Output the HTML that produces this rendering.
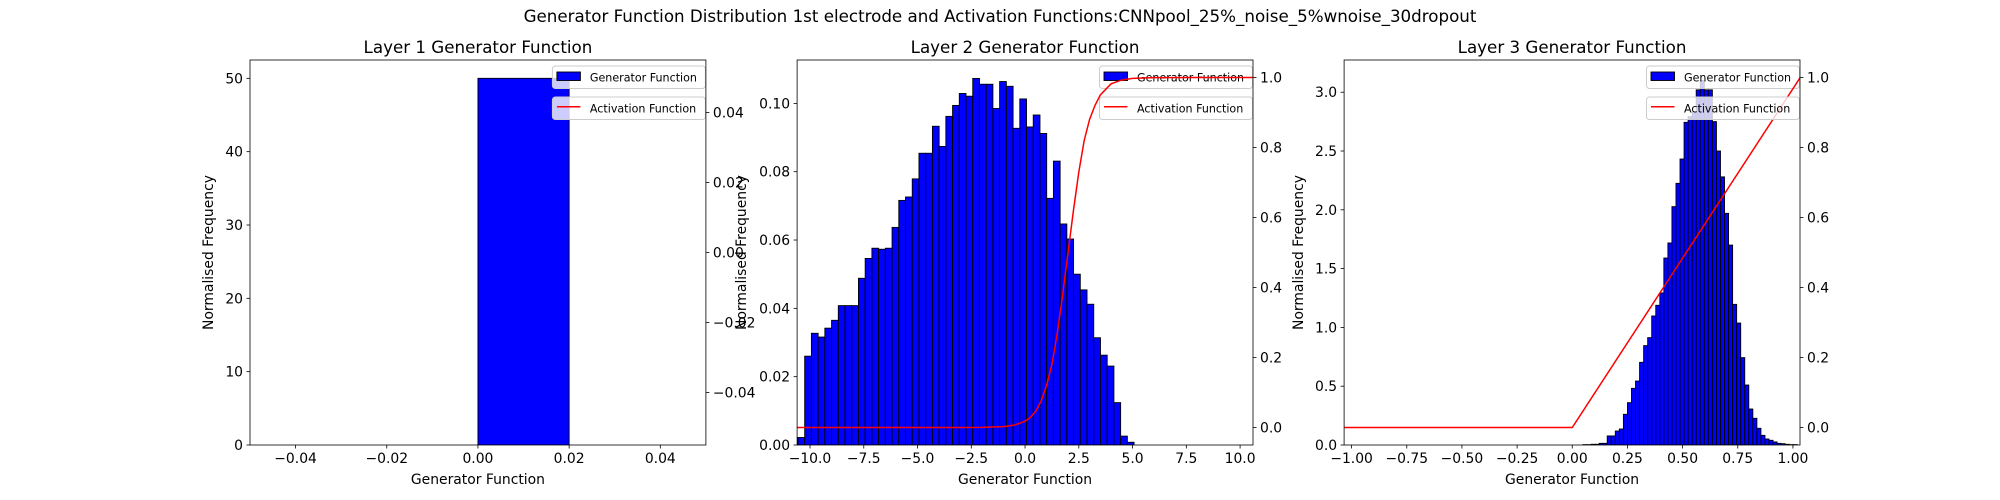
<!DOCTYPE html>
<html><head><meta charset="utf-8"><style>
html,body{margin:0;padding:0;background:#fff;}
svg{display:block;font-family:"DejaVu Sans","Liberation Sans",sans-serif;}
</style></head>
<body>
<svg id="fig" width="2000" height="500" viewBox="0 0 2000 500" xmlns="http://www.w3.org/2000/svg">
<rect width="2000" height="500" fill="#fff"/>
<text x="1000" y="22" font-size="16.7" text-anchor="middle">Generator Function Distribution 1st electrode and Activation Functions:CNNpool_25%_noise_5%wnoise_30dropout</text>
</svg>
<script>
// ---- Layer 1 data ----
const l1Edges = [0, 0.02];
const l1Heights = [50];
const l1XTicks = [-0.04, -0.02, 0, 0.02, 0.04];
const l1XTickLabels = ["−0.04", "−0.02", "0.00", "0.02", "0.04"];
const l1YTicks = [0, 10, 20, 30, 40, 50];
const l1YTickLabels = ["0", "10", "20", "30", "40", "50"];
const l1RTicks = [-0.04, -0.02, 0, 0.02, 0.04];
const l1RTickLabels = ["−0.04", "−0.02", "0.00", "0.02", "0.04"];
const l1ActX = [];
const l1ActY = [];
// ---- Layer 2 data ----
const l2BinStart = -10.56;
const l2BinWidth = 0.3126;
const l2Heights = [0.0022,0.026,0.0327,0.0316,0.0342,0.0365,0.0408,0.0408,0.0408,0.0488,0.0546,0.0576,0.0573,0.0576,0.0637,0.0716,0.0726,0.0779,0.0854,0.0854,0.0933,0.0874,0.0962,0.0994,0.1029,0.1021,0.1073,0.1056,0.1056,0.0985,0.1064,0.1050,0.0927,0.1013,0.0931,0.0966,0.0912,0.0722,0.0831,0.0647,0.0603,0.0500,0.0454,0.0412,0.0314,0.0263,0.0231,0.0124,0.0026,0.0008];
const l2XTicks = [-10, -7.5, -5, -2.5, 0, 2.5, 5, 7.5, 10];
const l2XTickLabels = ["−10.0","−7.5","−5.0","−2.5","0.0","2.5","5.0","7.5","10.0"];
const l2YTicks = [0, 0.02, 0.04, 0.06, 0.08, 0.10];
const l2YTickLabels = ["0.00","0.02","0.04","0.06","0.08","0.10"];
const l2RTicks = [0, 0.2, 0.4, 0.6, 0.8, 1.0];
const l2RTickLabels = ["0.0","0.2","0.4","0.6","0.8","1.0"];
const l2ActX = [-10.6,-6,-3,-2,-1,-0.5,0,0.25,0.5,0.75,1,1.25,1.5,1.75,2,2.25,2.5,2.75,3,3.25,3.5,4,4.5,5,6,8,10.6];
const l2ActY = [0,0,0,0.0002,0.0025,0.0067,0.018,0.029,0.047,0.076,0.12,0.18,0.27,0.38,0.5,0.62,0.73,0.82,0.88,0.92,0.95,0.982,0.993,0.9975,0.9997,1,1];
// ---- Layer 3 data ----
const l3BinStart = 0.0484;
const l3BinWidth = 0.01833;
const l3Heights = [0.003,0.003,0.006,0.006,0.014,0.014,0.077,0.077,0.119,0.136,0.261,0.36,0.482,0.544,0.703,0.845,0.913,1.097,1.188,1.293,1.59,1.718,2.027,2.225,2.432,2.744,2.792,2.834,3.02,3.10,3.02,3.02,2.75,2.50,2.28,1.97,1.70,1.196,1.037,0.743,0.51,0.306,0.227,0.142,0.082,0.051,0.040,0.026,0.014,0.011,0.006,0.003,0.003];
const l3XTicks = [-1, -0.75, -0.5, -0.25, 0, 0.25, 0.5, 0.75, 1];
const l3XTickLabels = ["−1.00","−0.75","−0.50","−0.25","0.00","0.25","0.50","0.75","1.00"];
const l3YTicks = [0, 0.5, 1, 1.5, 2, 2.5, 3];
const l3YTickLabels = ["0.0","0.5","1.0","1.5","2.0","2.5","3.0"];
const l3RTicks = [0, 0.2, 0.4, 0.6, 0.8, 1.0];
const l3RTickLabels = ["0.0","0.2","0.4","0.6","0.8","1.0"];
const l3ActX = [-1.033, 0, 1.033];
const l3ActY = [0, 0, 1.0];

const NS = "http://www.w3.org/2000/svg";
const svg = document.getElementById('fig');
function mk(tag, attrs, parent){
  const e = document.createElementNS(NS, tag);
  for (const k in attrs) e.setAttribute(k, attrs[k]);
  (parent||svg).appendChild(e);
  return e;
}
const TOP = 60, BOT = 445, W = 455.9;
function panel(p){
  const L = p.left, R = L + W;
  const g = mk('g', {});
  
  
  const sx = v => L + (v - p.xlim[0]) / (p.xlim[1] - p.xlim[0]) * W;
  const sy = v => BOT - (v - p.ylim[0]) / (p.ylim[1] - p.ylim[0]) * (BOT - TOP);
  const sr = v => BOT - (v - p.rlim[0]) / (p.rlim[1] - p.rlim[0]) * (BOT - TOP);
  const clip = mk('clipPath', {id: 'clip-' + p.name}, g);
  mk('rect', {x: L, y: TOP, width: W, height: BOT - TOP}, clip);
  const bars = mk('g', {'clip-path': 'url(#clip-' + p.name + ')'}, g);
  
  
  p.heights.forEach((h, i) => {
    const x0 = sx(p.edge(i)), x1 = sx(p.edge(i + 1));
    const r = mk('rect', {x: x0, y: sy(h), width: Math.max(0, x1 - x0), height: sy(0) - sy(h), fill: '#0000ff', stroke: '#000', 'stroke-width': 0.9}, bars);
    
    
  });
  const lx = R - 153.5;
  const lg1 = mk('g', {}, g);
  
  
  mk('rect', {x: lx, y: 66, width: 153, height: 22.5, rx: 3, fill: 'rgba(255,255,255,0.8)', stroke: '#cccccc', 'stroke-width': 1}, lg1);
  mk('rect', {x: lx + 4.5, y: 72, width: 23.5, height: 8.5, fill: '#0000ff', stroke: '#000', 'stroke-width': 0.9}, lg1);
  const t1 = mk('text', {x: lx + 37.5, y: 81.5, 'font-size': 11.1}, lg1);
  t1.textContent = 'Generator Function';
  if (p.actX.length){
    const pts = p.actX.map((x, i) => sx(x).toFixed(2) + ',' + sr(p.actY[i]).toFixed(2)).join(' ');
    const pl = mk('polyline', {points: pts, fill: 'none', stroke: '#ff0000', 'stroke-width': 1.5, 'clip-path': 'url(#clip-' + p.name + ')'}, g);
    
    
  }
  const lg2 = mk('g', {}, g);
  
  
  mk('rect', {x: lx, y: 97, width: 153, height: 22.5, rx: 3, fill: 'rgba(255,255,255,0.8)', stroke: '#cccccc', 'stroke-width': 1}, lg2);
  mk('line', {x1: lx + 4.5, x2: lx + 28, y1: 106.7, y2: 106.7, stroke: '#ff0000', 'stroke-width': 1.5}, lg2);
  const t2 = mk('text', {x: lx + 37.5, y: 112.5, 'font-size': 11.1}, lg2);
  t2.textContent = 'Activation Function';
  const fr = mk('rect', {x: L, y: TOP, width: W, height: BOT - TOP, fill: 'none', stroke: '#000', 'stroke-width': 0.8}, g);
  
  
  p.xt.forEach((v, i) => {
    const x = sx(v);
    mk('line', {x1: x, x2: x, y1: BOT, y2: BOT + 3.5, stroke: '#000', 'stroke-width': 0.8}, g);
    const t = mk('text', {x: x, y: BOT + 18, 'font-size': 13.9, 'text-anchor': 'middle'}, g);
    
    
    t.textContent = p.xtl[i];
  });
  p.yt.forEach((v, i) => {
    const y = sy(v);
    mk('line', {x1: L - 3.5, x2: L, y1: y, y2: y, stroke: '#000', 'stroke-width': 0.8}, g);
    const t = mk('text', {x: L - 7, y: y + 5, 'font-size': 13.9, 'text-anchor': 'end'}, g);
    
    
    t.textContent = p.ytl[i];
  });
  p.rt.forEach((v, i) => {
    const y = sr(v);
    mk('line', {x1: R, x2: R + 3.5, y1: y, y2: y, stroke: '#000', 'stroke-width': 0.8}, g);
    const t = mk('text', {x: R + 7, y: y + 5, 'font-size': 13.9, 'text-anchor': 'start'}, g);
    
    
    t.textContent = p.rtl[i];
  });
  const ti = mk('text', {x: L + W / 2, y: 53, 'font-size': 16.7, 'text-anchor': 'middle'}, g);
  
  
  ti.textContent = p.title;
  const xl = mk('text', {x: L + W / 2, y: 484, 'font-size': 13.9, 'text-anchor': 'middle'}, g);
  
  
  xl.textContent = 'Generator Function';
  const yl = mk('text', {x: 0, y: 0, 'font-size': 13.9, 'text-anchor': 'middle', transform: 'translate(' + (p.ylx) + ',' + ((TOP + BOT) / 2) + ') rotate(-90)'}, g);
  
  
  yl.textContent = 'Normalised Frequency';
}
panel({name: 'layer-1-panel', left: 250, title: 'Layer 1 Generator Function', xlim: [-0.05, 0.05], ylim: [0, 52.5], rlim: [-0.055, 0.055],
  heights: l1Heights, edge: i => l1Edges[i], actX: l1ActX, actY: l1ActY,
  xt: l1XTicks, xtl: l1XTickLabels, yt: l1YTicks, ytl: l1YTickLabels, rt: l1RTicks, rtl: l1RTickLabels, ylx: 213});
panel({name: 'layer-2-panel', left: 797.1, title: 'Layer 2 Generator Function', xlim: [-10.6, 10.6], ylim: [0, 0.1127], rlim: [-0.05, 1.05],
  heights: l2Heights, edge: i => l2BinStart + i * l2BinWidth, actX: l2ActX, actY: l2ActY,
  xt: l2XTicks, xtl: l2XTickLabels, yt: l2YTicks, ytl: l2YTickLabels, rt: l2RTicks, rtl: l2RTickLabels, ylx: 746});
panel({name: 'layer-3-panel', left: 1344.1, title: 'Layer 3 Generator Function', xlim: [-1.034, 1.032], ylim: [0, 3.274], rlim: [-0.05, 1.05],
  heights: l3Heights, edge: i => l3BinStart + i * l3BinWidth, actX: l3ActX, actY: l3ActY,
  xt: l3XTicks, xtl: l3XTickLabels, yt: l3YTicks, ytl: l3YTickLabels, rt: l3RTicks, rtl: l3RTickLabels, ylx: 1303});
</script>
</body></html>
